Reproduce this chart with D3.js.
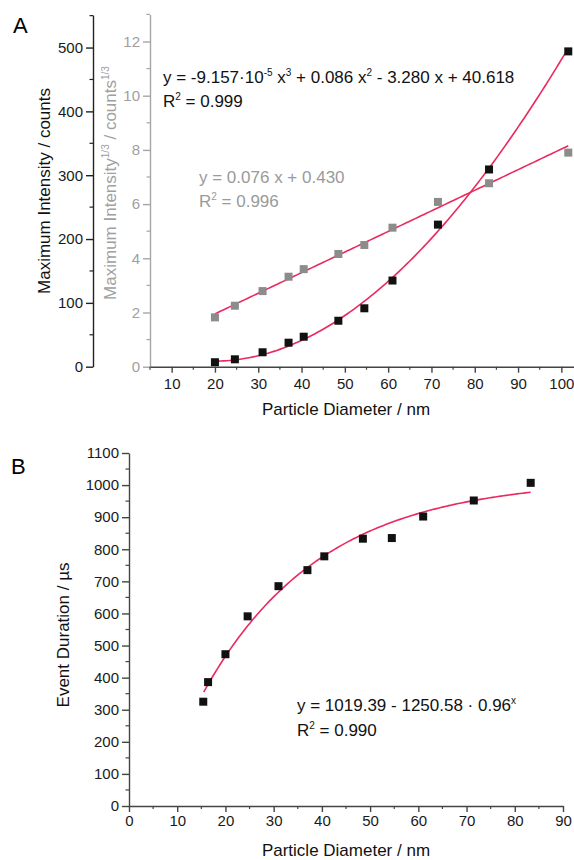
<!DOCTYPE html>
<html>
<head>
<meta charset="utf-8">
<script src="https://cdn.jsdelivr.net/npm/d3@7"></script>
<style>
  body { margin: 0; background: #fff; }
  svg { display: block; font-family: "Liberation Sans", Arial, sans-serif; }
</style>
</head>
<body>
<div id="chart"></div>
<script>
// panel A data
const diamA = [20, 24.6, 31, 37, 40.5, 48.5, 54.5, 61, 71.5, 83.3, 101.6];
const maxIntensity = [7, 11.6, 22.6, 37.6, 47, 72, 91.5, 135, 222.6, 309, 494];
const cubeRoot = [1.82, 2.25, 2.79, 3.32, 3.6, 4.16, 4.49, 5.13, 6.08, 6.77, 7.9];
const cubicCoef = [40.618, -3.280, 0.086, -9.157e-5]; // a0..a3 from the fit label
const linearCoef = [0.430, 0.076];
const leftTicks = [0, 100, 200, 300, 400, 500];
const rightTicks = [0, 2, 4, 6, 8, 10, 12];
const xTicksA = [10, 20, 30, 40, 50, 60, 70, 80, 90, 100];

// panel B data
const diamB = [15.4, 16.4, 20, 24.6, 31, 37, 40.5, 48.5, 54.5, 61, 71.5, 83.3];
const duration = [325, 386, 473, 591, 685, 735, 778, 833, 835, 902, 952, 1007];
const expCoef = [1019.39, 1250.58, 0.96];
const yTicksB = [0, 100, 200, 300, 400, 500, 600, 700, 800, 900, 1000, 1100];
const xTicksB = [0, 10, 20, 30, 40, 50, 60, 70, 80, 90];

const W = 574, H = 860;
const fitColor = '#ea2a5e';
const greyAxis = '#a6a6a6';
const greyMark = '#8c8c8c';
const tickFont = 15;

const svg = d3.select('#chart').append('svg')
    .attr('width', W)
    .attr('height', H);

function sampleRange(a, b, n) {
    return d3.range(n + 1).map(i => a + (b - a) * i / n);
}

function drawTicks(g, scale, ticks, orient, len, minorStep, color) {
    // minor ticks done by hand, Origin style
    const minor = d3.range(scale.domain()[0], scale.domain()[1] + 1e-9, minorStep)
        .filter(v => !ticks.includes(v));
    if (orient === 'left') {
        g.selectAll(null).data(minor).join('line')
            .attr('x1', -len / 2).attr('x2', 0)
            .attr('y1', d => scale(d)).attr('y2', d => scale(d))
            .attr('stroke', color).attr('stroke-width', 1.2);
    } else {
        g.selectAll(null).data(minor).join('line')
            .attr('y1', 0).attr('y2', len / 2)
            .attr('x1', d => scale(d)).attr('x2', d => scale(d))
            .attr('stroke', color).attr('stroke-width', 1.2);
    }
}

function styleAxis(ax, lineColor, textColor) {
    ax.select('.domain').attr('stroke', lineColor).attr('stroke-width', 1.4);
    ax.selectAll('.tick line').attr('stroke', lineColor).attr('stroke-width', 1.4);
    ax.selectAll('.tick text').attr('font-size', tickFont).attr('fill', textColor).attr('font-family', null);
}

function supText(g, x, y, parts, color) {
    // parts: [text, isSuperscript]
    const t = g.append('text').attr('x', x).attr('y', y).attr('font-size', 17).attr('fill', color);
    let up = false;
    parts.forEach(([s, sup]) => {
        const ts = t.append('tspan').text(s);
        if (sup && !up) { ts.attr('dy', -7).attr('font-size', 10); up = true; }
        else if (sup) { ts.attr('font-size', 10); }
        else if (up) { ts.attr('dy', 7); up = false; }
    });
    return t;
}

// ---------- panel A ----------
const xA = d3.scaleLinear().domain([5, 105]).range([150, 583]);
const yL = d3.scaleLinear().domain([0, 551]).range([366.7, 15]);
const yR = d3.scaleLinear().domain([0, 13]).range([366.7, 14.4]);

const gA = svg.append('g');

// left black axis
const axL = gA.append('g').attr('transform', 'translate(93,0)')
    .call(d3.axisLeft(yL).tickValues(leftTicks).tickSize(7).tickPadding(3).tickSizeOuter(0));
styleAxis(axL, '#222', '#1a1a1a');
drawTicks(axL, yL, leftTicks, 'left', 7, 50, '#222');

// grey axis
const axR = gA.append('g').attr('transform', 'translate(150,0)')
    .call(d3.axisLeft(yR).tickValues(rightTicks).tickSize(7).tickPadding(3).tickSizeOuter(0));
styleAxis(axR, greyAxis, '#a0a0a0');
drawTicks(axR, yR, rightTicks, 'left', 7, 1, greyAxis);

// x axis A
const axXA = gA.append('g').attr('transform', 'translate(0,366.7)')
    .call(d3.axisBottom(xA).tickValues(xTicksA).tickSize(6).tickPadding(6).tickSizeOuter(0));
styleAxis(axXA, '#444', '#1a1a1a');
drawTicks(axXA, xA, xTicksA, 'bottom', 6, 5, '#444');

// titles A
gA.append('text').attr('x', 13).attr('y', 33).attr('font-size', 22).text('A');
gA.append('text')
    .attr('transform', 'translate(50,191) rotate(-90)')
    .attr('text-anchor', 'middle').attr('font-size', 17).attr('fill', '#111')
    .text('Maximum Intensity / counts');
const gt = gA.append('text')
    .attr('transform', 'translate(116,183) rotate(-90)')
    .attr('text-anchor', 'middle').attr('font-size', 17).attr('fill', '#a0a0a0');
gt.append('tspan').text('Maximum Intensity');
gt.append('tspan').attr('dy', -7).attr('font-size', 10).text('1/3');
gt.append('tspan').attr('dy', 7).text(' / counts');
gt.append('tspan').attr('dy', -7).attr('font-size', 10).text('1/3');
gA.append('text').attr('x', 346).attr('y', 415).attr('text-anchor', 'middle')
    .attr('font-size', 17).attr('fill', '#111').text('Particle Diameter / nm');

// fits A
const line = d3.line();
const cubic = x => cubicCoef[0] + cubicCoef[1] * x + cubicCoef[2] * x * x + cubicCoef[3] * x * x * x;
const lin = x => linearCoef[0] + linearCoef[1] * x;
const xsA = sampleRange(diamA[0], diamA[diamA.length - 1], 120);
gA.append('path')
    .attr('d', line(xsA.map(x => [xA(x), yL(cubic(x))])))
    .attr('fill', 'none').attr('stroke', fitColor).attr('stroke-width', 1.6);
gA.append('path')
    .attr('d', line(xsA.map(x => [xA(x), yR(lin(x))])))
    .attr('fill', 'none').attr('stroke', fitColor).attr('stroke-width', 1.6);

// markers A
const sq = 8;
gA.selectAll('rect.grey').data(diamA).join('rect').attr('class', 'grey')
    .attr('x', (d) => xA(d) - sq / 2)
    .attr('y', (d, i) => yR(cubeRoot[i]) - sq / 2)
    .attr('width', sq).attr('height', sq).attr('fill', greyMark);
gA.selectAll('rect.black').data(diamA).join('rect').attr('class', 'black')
    .attr('x', (d) => xA(d) - sq / 2)
    .attr('y', (d, i) => yL(maxIntensity[i]) - sq / 2)
    .attr('width', sq).attr('height', sq).attr('fill', '#111');

// equations A
supText(gA, 163, 83, [['y = -9.157\u00b710'], ['-5', 1], [' x'], ['3', 1], [' + 0.086 x'], ['2', 1], [' - 3.280 x + 40.618']], '#111');
supText(gA, 163, 107, [['R'], ['2', 1], [' = 0.999']], '#111');
supText(gA, 199, 183, [['y = 0.076 x + 0.430']], '#9a9a9a');
supText(gA, 199, 207, [['R'], ['2', 1], [' = 0.996']], '#9a9a9a');

// ---------- panel B ----------
const xB = d3.scaleLinear().domain([0, 90]).range([129, 563]);
const yB = d3.scaleLinear().domain([0, 1100]).range([806, 453]);
const gB = svg.append('g');

const axYB = gB.append('g').attr('transform', 'translate(129,0)')
    .call(d3.axisLeft(yB).tickValues(yTicksB).tickFormat(d3.format('d')).tickSize(7).tickPadding(3).tickSizeOuter(0));
styleAxis(axYB, '#444', '#1a1a1a');
drawTicks(axYB, yB, yTicksB, 'left', 7, 50, '#444');

const axXB = gB.append('g').attr('transform', 'translate(0,806)')
    .call(d3.axisBottom(xB).tickValues(xTicksB).tickSize(6).tickPadding(3).tickSizeOuter(0));
styleAxis(axXB, '#444', '#1a1a1a');
drawTicks(axXB, xB, xTicksB, 'bottom', 6, 5, '#444');

gB.append('text').attr('x', 11).attr('y', 474).attr('font-size', 22).text('B');
gB.append('text')
    .attr('transform', 'translate(69,635) rotate(-90)')
    .attr('text-anchor', 'middle').attr('font-size', 17).attr('fill', '#111')
    .text('Event Duration / \u00b5s');
gB.append('text').attr('x', 346).attr('y', 856).attr('text-anchor', 'middle')
    .attr('font-size', 17).attr('fill', '#111').text('Particle Diameter / nm');

const expFit = x => expCoef[0] - expCoef[1] * Math.pow(expCoef[2], x);
const xsB = sampleRange(15.5, diamB[diamB.length - 1], 120);
gB.append('path')
    .attr('d', line(xsB.map(x => [xB(x), yB(expFit(x))])))
    .attr('fill', 'none').attr('stroke', fitColor).attr('stroke-width', 1.6);

gB.selectAll('rect.black').data(diamB).join('rect').attr('class', 'black')
    .attr('x', (d) => xB(d) - sq / 2)
    .attr('y', (d, i) => yB(duration[i]) - sq / 2)
    .attr('width', sq).attr('height', sq).attr('fill', '#111');

supText(gB, 297, 711, [['y = 1019.39 - 1250.58 \u00b7 0.96'], ['x', 1]], '#111');
supText(gB, 297, 736, [['R'], ['2', 1], [' = 0.990']], '#111');
</script>
</body>
</html>
